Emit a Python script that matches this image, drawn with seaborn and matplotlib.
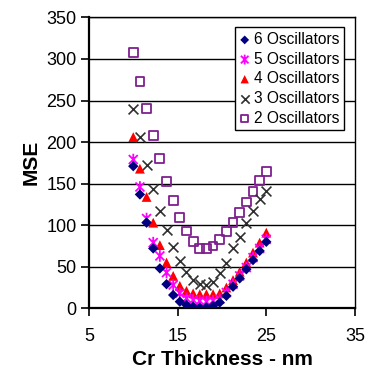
import numpy as np
import pandas as pd
import matplotlib
matplotlib.use("Agg")
import matplotlib.pyplot as plt
from matplotlib.path import Path
import seaborn as sns

# ---- data -------------------------------------------------------------
thickness = [10.0, 10.75, 11.5, 12.25, 13.0, 13.75, 14.5, 15.25, 16.0, 16.75,
             17.5, 18.25, 19.0, 19.75, 20.5, 21.25, 22.0, 22.75, 23.5, 24.25, 25.0]

osc6 = [171, 137, 103, 72, 48, 29, 16, 8, 4, 2, 1, 1, 3, 7, 15, 26, 36, 47, 58, 69, 80]
osc5 = [179, 146, 108, 79, 63, 43, 28, 18, 12, 10, 9, 8, 9, 11, 19, 29, 39, 49, 61, 72, 83]
osc4 = [206, 168, 134, 103, 76, 55, 39, 27, 21, 18, 17, 17, 17, 18, 25, 34, 44, 55, 67, 79, 91]
osc3 = [240, 206, 173, 144, 117, 94, 74, 57, 44, 34, 29, 28, 32, 42, 54, 72, 86, 103, 117, 131, 141]
osc2 = [308, 273, 240, 208, 180, 153, 130, 109, 93, 80, 72, 72, 75, 83, 92, 103, 115, 128, 141, 154, 165]

series_labels = ["6 Oscillators", "5 Oscillators", "4 Oscillators", "3 Oscillators", "2 Oscillators"]
x_ticks = [5, 15, 25, 35]
y_ticks = [0, 50, 100, 150, 200, 250, 300, 350]

# ---- style ------------------------------------------------------------
sns.set_style("white")
plt.rcParams["font.family"] = ["Liberation Sans", "DejaVu Sans"]
plt.rcParams["text.color"] = "black"
plt.rcParams["axes.labelcolor"] = "black"

fig = plt.figure(figsize=(3.69, 3.71), dpi=100)
ax = fig.add_axes([0.241, 0.169, 0.721, 0.784])

# asterisk marker: X with vertical bar
star = Path([(-1, -1), (1, 1), (-1, 1), (1, -1), (0, -1.3), (0, 1.3)],
            [Path.MOVETO, Path.LINETO, Path.MOVETO, Path.LINETO, Path.MOVETO, Path.LINETO])

df = pd.DataFrame({"x": thickness, "o6": osc6, "o5": osc5, "o4": osc4, "o3": osc3, "o2": osc2})

sns.scatterplot(data=df, x="x", y="o2", marker="s", s=40, facecolors="none",
                edgecolors="#7f1f8f", linewidth=1.3, ax=ax, zorder=3)
sns.scatterplot(data=df, x="x", y="o3", marker="x", s=50, color="#303030",
                linewidth=1.2, ax=ax, zorder=4)
sns.scatterplot(data=df, x="x", y="o4", marker="^", s=50, color="#ff0000",
                edgecolor="none", ax=ax, zorder=5)
sns.scatterplot(data=df, x="x", y="o5", marker=star, s=70, facecolors="none",
                edgecolors="#ff00ff", linewidth=1.3, ax=ax, zorder=6)
sns.scatterplot(data=df, x="x", y="o6", marker="D", s=28, color="#000080",
                edgecolor="none", ax=ax, zorder=7)

colls = ax.collections
order = [colls[4], colls[3], colls[2], colls[1], colls[0]]

ax.set_xlim(5, 35)
ax.set_ylim(0, 350)
ax.set_xticks(x_ticks)
ax.set_yticks(y_ticks)
ax.yaxis.grid(True, color="black", linewidth=1.0)
ax.xaxis.grid(False)
ax.set_axisbelow(True)
for sp in ax.spines.values():
    sp.set_visible(True)
    sp.set_color("black")
    sp.set_linewidth(1.0)
ax.spines["left"].set_linewidth(1.6)
ax.spines["bottom"].set_linewidth(1.6)

ax.tick_params(axis="both", direction="out", length=6, width=1.2, color="black",
               labelsize=13, labelcolor="black", pad=3,
               bottom=True, left=True)
ax.tick_params(axis="x", pad=8)

ax.set_xlabel("Cr Thickness - nm", fontsize=15, fontweight="bold", labelpad=4, color="black")
ax.set_ylabel("MSE", fontsize=15, fontweight="bold", labelpad=4, color="black")

leg = ax.legend(order, series_labels, loc="upper right", bbox_to_anchor=(0.959, 0.966),
                borderaxespad=0, frameon=True, fancybox=False, framealpha=1,
                edgecolor="black", fontsize=11.2, handlelength=0.7, handletextpad=0.25,
                labelspacing=0.3, borderpad=0.3, markerscale=0.85)
leg.get_frame().set_linewidth(1.0)
for t in leg.get_texts():
    t.set_color("black")

fig.savefig("out.png", dpi=100)
